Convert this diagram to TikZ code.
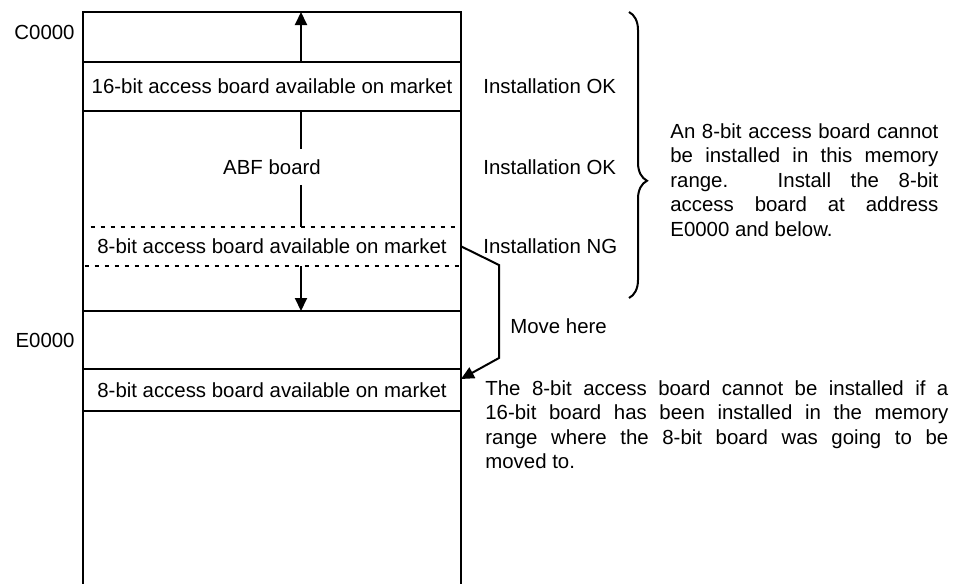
\documentclass[tikz,border=0pt]{standalone}
\usepackage{fontspec}
\setmainfont{Liberation Sans}
\usepackage{tikz}
\usetikzlibrary{arrows.meta}
\usetikzlibrary{positioning}
\usetikzlibrary{decorations.pathreplacing}
\tolerance=9999
\hbadness=10000
\tikzstyle{band} = [draw, rectangle, line width=1pt, outer sep=0pt, inner sep=0pt,
        minimum width=189pt, anchor=north]
\tikzstyle{addr} = [anchor=east, inner sep=0pt]
\tikzstyle{note} = [inner sep=1pt]
\tikzstyle{comment} = [inner sep=0pt, anchor=north west, align=justify]
\tikzstyle{wire} = [line width=1pt]
\tikzstyle{move} = [line width=1pt, -{Triangle[length=6.5pt,width=6pt]}]
\tikzstyle{dotline} = [line width=1pt, dash pattern=on 2pt off 3pt]

\begin{document}
\begin{tikzpicture}[x=0.5pt, y=-0.5pt, every node/.style={font=\fontsize{10.2}{12.25}\selectfont}]
    \useasboundingbox (0,0) rectangle (965,584);
    \node [band, minimum height=25pt] (free1) at (272,12) {};
    \node [band, minimum height=24.5pt, below=0pt of free1] (b16) {16-bit access board available on market};
    \node [band, minimum height=100pt, below=0pt of b16] (abf) {};
    \node [band, minimum height=29pt, below=0pt of abf] (free2) {};
    \node [band, minimum height=21pt, below=0pt of free2] (b8new) {8-bit access board available on market};
    \coordinate (bot) at (0,584);
    \draw [wire] (b8new.south west) -- (b8new.south west |- bot);
    \draw [wire] (b8new.south east) -- (b8new.south east |- bot);

    \node [minimum width=189pt, minimum height=19.5pt, inner sep=0pt] (b8old) at (272,246.5) {8-bit access board available on market};
    \draw [dotline] ([xshift=4pt]b8old.north west) -- (b8old.north east);
    \draw [dotline] ([xshift=1pt]b8old.south west) -- (b8old.south east);

    \node [inner xsep=2pt, inner ysep=5pt] (abftext) at (272,167) {ABF board};
    \coordinate (ax) at (301,0);
    \draw [move] (free1.south -| ax) -- (free1.north -| ax);
    \draw [wire] (abf.north -| ax) -- (abftext.north -| ax);
    \draw [wire] (abftext.south -| ax) -- (b8old.north -| ax);
    \draw [move] (b8old.south -| ax) -- (free2.north -| ax);

    \node [addr, left=4pt of free1, yshift=2.5pt] (c0) {C0000};
    \node [addr, left=4pt of free2] (e0) {E0000};

    \node [note, right=10pt of b16] (ok1) {Installation OK};
    \node [note, anchor=west] (ok2) at (abftext -| ok1.west) {Installation OK};
    \node [note, anchor=west] (ng) at (b8old -| ok1.west) {Installation NG};

    \coordinate (m1) at (499,265);
    \coordinate (m2) at (499,358);
    \draw [move] (b8old.east) -- (m1) -- (m2) -- ([yshift=-5pt]b8new.north east);
    \node [note, anchor=west] (movehere) at (508,326) {Move here};

    \coordinate (bt) at (629,12);
    \coordinate (bb) at (629,298);
    \draw [wire, decorate, decoration={brace, amplitude=9pt, aspect=0.59}] (bt) -- (bb);
    \node [comment, text width=134pt] (rangenote) at (670,123) {An 8-bit access board cannot\linebreak
        be installed in this memory\linebreak range. Install the 8-bit\linebreak
        access board at address\linebreak E0000 and below.};
    \node [comment, text width=231.5pt] (movenote) at (485,380) {The 8-bit access board cannot be installed if a\linebreak
        16-bit board has been installed in the memory\linebreak
        range where the 8-bit board was going to be\linebreak moved to.};
\end{tikzpicture}
\end{document}
